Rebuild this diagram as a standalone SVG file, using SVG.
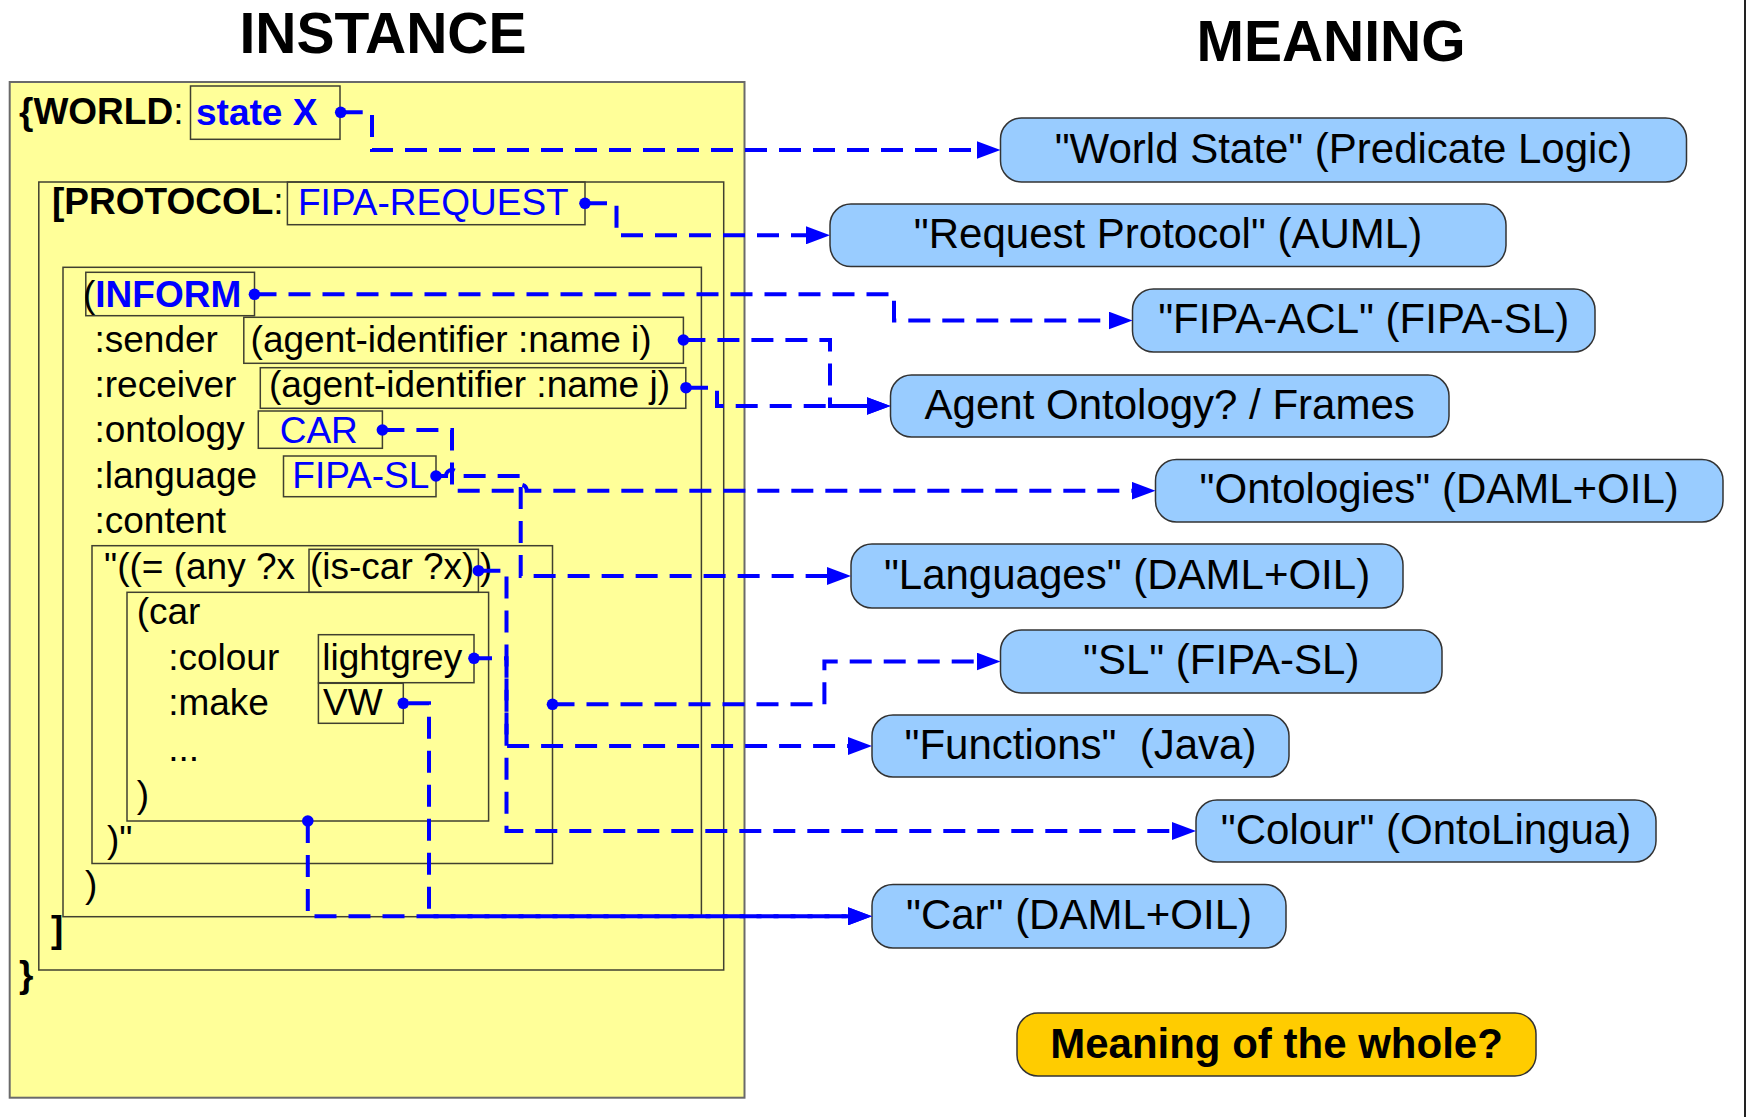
<svg xmlns="http://www.w3.org/2000/svg" width="1749" height="1117" viewBox="0 0 1749 1117">
<style>
text{font-family:"Liberation Sans",Arial,sans-serif;fill:#000}
.t{font-size:37px}
.b{font-weight:bold}
.v{fill:#0000ff}
.title{font-size:57px;font-weight:bold;text-anchor:middle}
.frame{fill:none;stroke:#404030;stroke-width:1.5}
.outer{fill:#ffff99;stroke:#6a6a6a;stroke-width:2}
.m rect{fill:#99ccff;stroke:#333;stroke-width:1.5}
.m text{font-size:42px;text-anchor:middle;white-space:pre}
.w rect{fill:#ffcc00;stroke:#333;stroke-width:1.5}
.w text{font-size:42px;font-weight:bold;text-anchor:middle}
.c{fill:none;stroke:#0000ff;stroke-width:4;stroke-dasharray:22 12;marker-start:url(#dot);marker-end:url(#arr)}
</style>
<defs>
<marker id="dot" markerUnits="userSpaceOnUse" markerWidth="14" markerHeight="14" refX="7" refY="7" viewBox="0 0 14 14"><circle cx="7" cy="7" r="5.8" fill="#0000ff"/></marker>
<marker id="arr" markerUnits="userSpaceOnUse" markerWidth="24" markerHeight="18" refX="4" refY="9" viewBox="0 0 24 18" orient="auto"><path d="M0,0 L24,9 L0,18 z" fill="#0000ff"/></marker>
</defs>
<rect width="1749" height="1117" fill="#fff"/>
<line x1="1745" y1="0" x2="1745" y2="1117" stroke="#222" stroke-width="2"/>
<text class="title" x="383" y="52.5">INSTANCE</text>
<text class="title" x="1331" y="61">MEANING</text>

<g id="world">
<rect class="outer" x="9.7" y="82" width="734.8" height="1015.7"/>
<text class="t" x="19" y="124"><tspan class="b">{WORLD</tspan>:</text>
<text class="t b" x="19" y="987">}</text>
</g>
<g id="state-x">
<rect class="frame" x="190.5" y="86" width="149.5" height="53.3"/>
<text class="t b v" x="196" y="124.5">state X</text>
</g>
<g id="protocol">
<rect class="frame" x="38.8" y="182" width="684.9" height="788"/>
<text class="t" x="52" y="214"><tspan class="b">[PROTOCOL</tspan>:</text>
<text class="t b" x="51" y="942">]</text>
</g>
<g id="fipa-request">
<rect class="frame" x="287.4" y="182" width="297.6" height="42.7"/>
<text class="t v" x="298" y="215">FIPA-REQUEST</text>
</g>
<g id="inform">
<rect class="frame" x="63" y="267.3" width="638.4" height="649.4"/>
<text class="t" x="94.5" y="352">:sender</text>
<text class="t" x="94.5" y="397">:receiver</text>
<text class="t" x="94.5" y="442">:ontology</text>
<text class="t" x="94.5" y="487.5">:language</text>
<text class="t" x="94.5" y="532.7">:content</text>
<text class="t" x="85" y="897">)</text>
</g>
<g id="inform-act">
<rect class="frame" x="85.8" y="272.3" width="168.7" height="43.4"/>
<text class="t" x="83" y="307.3">(<tspan class="b v">INFORM</tspan></text>
</g>
<g id="sender">
<rect class="frame" x="243.8" y="317.3" width="439.6" height="46"/>
<text class="t" x="250.6" y="352">(agent-identifier :name i)</text>
</g>
<g id="receiver">
<rect class="frame" x="260.3" y="367.7" width="425.5" height="40.6"/>
<text class="t" x="269" y="397">(agent-identifier :name j)</text>
</g>
<g id="ontology-car">
<rect class="frame" x="258.3" y="411" width="124.1" height="37.3"/>
<text class="t v" x="279.7" y="442.5">CAR</text>
</g>
<g id="language-fipa-sl">
<rect class="frame" x="283.5" y="456" width="152.5" height="40.7"/>
<text class="t v" x="292.3" y="488">FIPA-SL</text>
</g>
<g id="content">
<rect class="frame" x="92" y="545.7" width="460.5" height="317.8"/>
<text class="t" x="104" y="579">"((= (any ?x</text>
<text class="t" x="480" y="579">)</text>
<text class="t" x="107" y="852">)"</text>
</g>
<g id="is-car">
<rect class="frame" x="309" y="549.3" width="169.4" height="43"/>
<text class="t" x="310" y="579">(is-car ?x)</text>
</g>
<g id="car-frame">
<rect class="frame" x="127" y="592.3" width="361.6" height="228.7"/>
<text class="t" x="136.7" y="623.5">(car</text>
<text class="t" x="168.2" y="670">:colour</text>
<text class="t" x="168.2" y="715">:make</text>
<text class="t" x="168.2" y="761">...</text>
<text class="t" x="136.7" y="807">)</text>
</g>
<g id="colour-lightgrey">
<rect class="frame" x="318.4" y="634.7" width="155.6" height="48"/>
<text class="t" x="322.3" y="670">lightgrey</text>
</g>
<g id="make-vw">
<rect class="frame" x="318.4" y="683.3" width="84.9" height="40"/>
<text class="t" x="323" y="715">VW</text>
</g>

<g id="m-world-state" class="m"><rect x="1000.5" y="118" width="686" height="64" rx="21"/><text x="1343.5" y="163">"World State" (Predicate Logic)</text></g>
<g id="m-request-protocol" class="m"><rect x="830" y="204" width="676" height="62.6" rx="21"/><text x="1168" y="248">"Request Protocol" (AUML)</text></g>
<g id="m-fipa-acl" class="m"><rect x="1132.5" y="289" width="462.5" height="63" rx="21"/><text x="1363.7" y="333">"FIPA-ACL" (FIPA-SL)</text></g>
<g id="m-agent-ontology" class="m"><rect x="890.5" y="375" width="558.5" height="62" rx="21"/><text x="1169.7" y="418.5">Agent Ontology? / Frames</text></g>
<g id="m-ontologies" class="m"><rect x="1155.5" y="459.5" width="567.5" height="62.5" rx="21"/><text x="1439.2" y="503.2">"Ontologies" (DAML+OIL)</text></g>
<g id="m-languages" class="m"><rect x="851" y="544" width="552" height="64" rx="21"/><text x="1127" y="588.5">"Languages" (DAML+OIL)</text></g>
<g id="m-sl" class="m"><rect x="1000.5" y="630" width="441.5" height="63" rx="21"/><text x="1221.2" y="674">"SL" (FIPA-SL)</text></g>
<g id="m-functions" class="m"><rect x="872" y="715" width="417" height="62" rx="21"/><text x="1080.5" y="758.5">"Functions"  (Java)</text></g>
<g id="m-colour" class="m"><rect x="1196" y="800" width="460" height="62" rx="21"/><text x="1426" y="843.5">"Colour" (OntoLingua)</text></g>
<g id="m-car" class="m"><rect x="872" y="884.5" width="414" height="63.5" rx="21"/><text x="1079" y="928.8">"Car" (DAML+OIL)</text></g>
<g id="m-whole" class="w"><rect x="1017" y="1013" width="519" height="63" rx="21"/><text x="1276.5" y="1058">Meaning of the whole?</text></g>

<g id="connectors">
<path class="c" d="M340.7,112.3 H372 V150 H980.5"/>
<path class="c" d="M585,203.3 H616.5 V235.3 H810"/>
<path class="c" d="M254.5,294.3 H894 V320.5 H1112.5"/>
<path class="c" d="M683.4,340 H830 V406 H870.5"/>
<path class="c" d="M686,387.7 H717 V406 H870.5"/>
<path class="c" d="M382.4,430 H452 V490.7 H514.7 A6,6 0 0 1 526.7,490.7 H1135.5"/>
<path class="c" d="M436,476 H446 A6,6 0 0 1 458,476 H520.7 V576 H831"/>
<path class="c" d="M478.4,570.7 H506.5 V746 H852"/>
<path class="c" style="stroke-dashoffset:4" d="M474,658.3 H506.5 V831 H1176"/>
<path class="c" d="M552.5,704.3 H824.4 V661.5 H980.5"/>
<path class="c" style="stroke-dashoffset:28.8" d="M403.3,703.3 H429 V916.3 H852"/>
<path class="c" d="M307.8,821 V916.3 H852"/>
</g>
</svg>
